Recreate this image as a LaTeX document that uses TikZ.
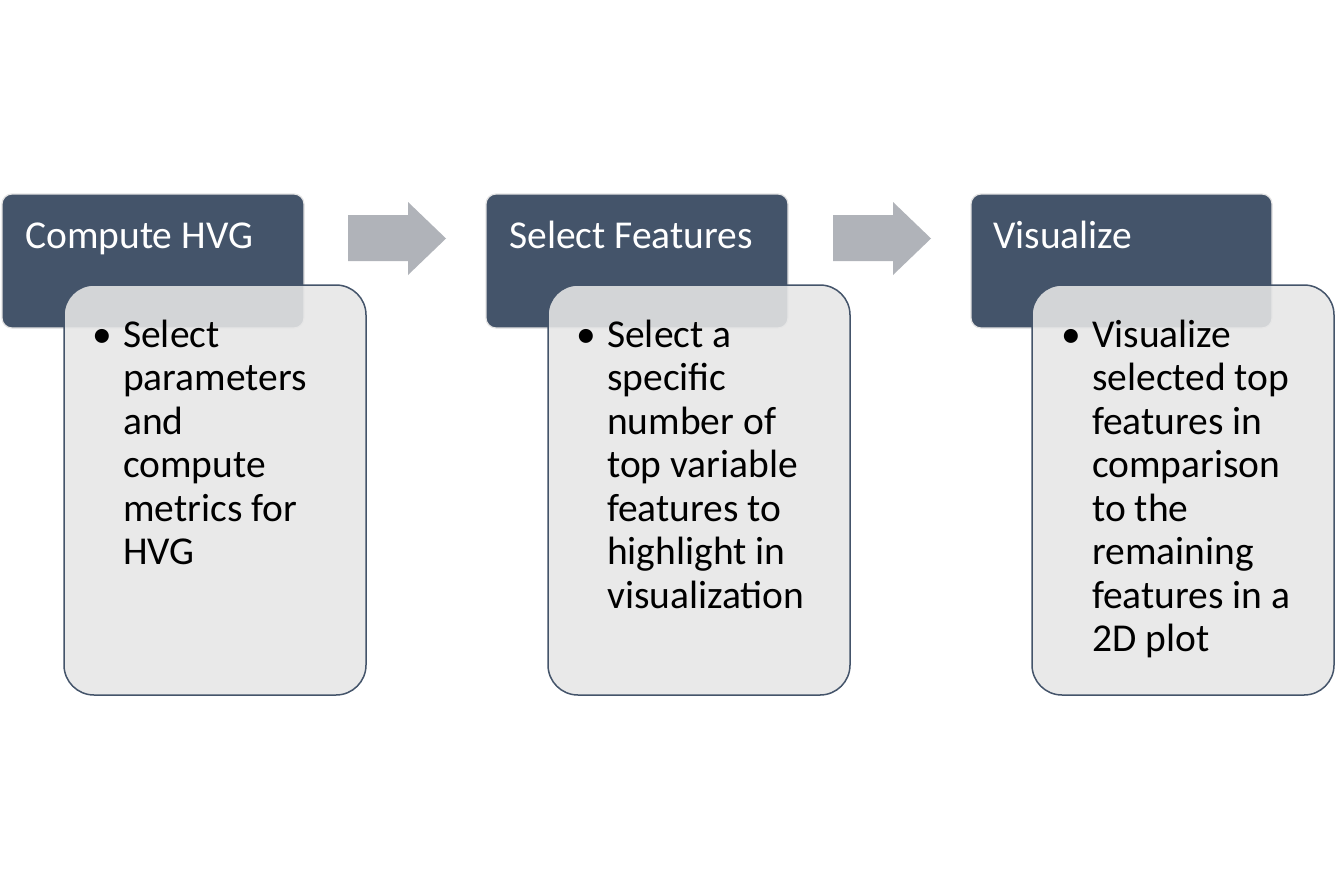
\documentclass[tikz,border=0pt]{standalone}
\usepackage{fontspec}
\setmainfont{Carlito}
\definecolor{darkslate}{HTML}{44546A}
\definecolor{lightfill}{HTML}{E7E7E7}
\definecolor{arrowgray}{HTML}{B0B3B9}
\definecolor{rimgray}{HTML}{E4E4E4}
\tikzset{
  headbox/.style={draw=rimgray, line width=1.2pt, fill=darkslate, rounded corners=10pt},
  bodybox/.style={draw=darkslate, line width=1.5pt, fill=lightfill, fill opacity=0.88, draw opacity=1, rounded corners=30pt},
  titletext/.style={anchor=base west, inner sep=0pt, text=white, font=\fontsize{39.5}{43.5}\selectfont},
  bodytext/.style={anchor=base west, inner sep=0pt, text=black, font=\fontsize{39.5}{43.5}\selectfont},
  flowarrow/.style={fill=arrowgray, draw=none}
}
\newcommand{\bul}{\llap{•\hspace{11pt}}}
\newcommand{\lines}[1]{\begin{tabular}[t]{@{}l@{}}#1\end{tabular}}
\begin{document}
\begin{tikzpicture}[x=1pt,y=-1pt]
\useasboundingbox (0,0) rectangle (1335,889);
\fill[white] (0,0) rectangle (1335,889);
% step 1
\path[headbox] (2,194) rectangle (304,328);
\node[titletext] (t1) at (25,248) {Compute HVG};
\path[bodybox] (64,285) rectangle (366,695);
\node[bodytext] (b1) at (123,347) {\lines{\bul Select\\parameters\\and\\compute\\metrics for\\HVG}};
% arrow 1
\path[flowarrow] (348,215) -- (408,215) -- (408,202) -- (446,238.5) -- (408,275) -- (408,261) -- (348,261) -- cycle;
% step 2
\path[headbox] (486,194) rectangle (788,328);
\node[titletext] (t2) at (509,248) {Select Features};
\path[bodybox] (548,285) rectangle (850,695);
\node[bodytext] (b2) at (607,347) {\lines{\bul Select a\\specific\\number of\\top variable\\features to\\highlight in\\visualization}};
% arrow 2
\path[flowarrow] (833,215) -- (893,215) -- (893,202) -- (931,238.5) -- (893,275) -- (893,261) -- (833,261) -- cycle;
% step 3
\path[headbox] (971,194) rectangle (1272,328);
\node[titletext] (t3) at (993,248) {Visualize};
\path[bodybox] (1032,285) rectangle (1334,695);
\node[bodytext] (b3) at (1092,347) {\lines{\bul Visualize\\selected top\\features in\\comparison\\to the\\remaining\\features in a\\2D plot}};
\end{tikzpicture}
\end{document}
